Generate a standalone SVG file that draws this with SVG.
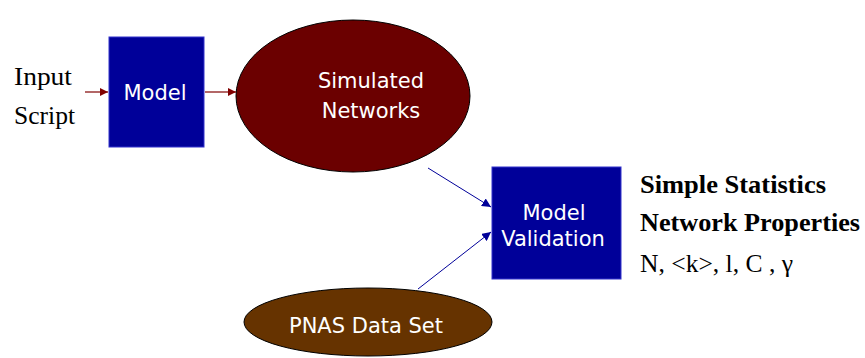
<svg xmlns="http://www.w3.org/2000/svg" width="865" height="358" viewBox="0 0 865 358">
<style>
.box{fill:#000099;stroke:#3333cc;stroke-width:1}
.lbl{font-family:"DejaVu Sans","Liberation Sans",sans-serif;font-size:21px;fill:#ffffff;text-anchor:middle}
.ser{font-family:"Liberation Serif",serif;font-size:26px;fill:#000000}
.bold{font-weight:bold}
.red{stroke:#800000;stroke-width:1.2;fill:none}
.blue{stroke:#000099;stroke-width:1;fill:none}
</style>
<defs>
<marker id="ar" viewBox="0 0 10 10" refX="10" refY="5" markerWidth="8" markerHeight="8" markerUnits="userSpaceOnUse" orient="auto"><path d="M0,0L10,5L0,10z" fill="#800000"/></marker>
<marker id="ab" viewBox="0 0 10 10" refX="10" refY="5" markerWidth="9" markerHeight="9" markerUnits="userSpaceOnUse" orient="auto"><path d="M0,0L10,5L0,10z" fill="#000099"/></marker>
</defs>
<g id="input">
<text class="ser" x="14" y="85" textLength="58" lengthAdjust="spacingAndGlyphs">Input</text>
<text class="ser" x="14" y="124" textLength="61" lengthAdjust="spacingAndGlyphs">Script</text>
</g>
<g id="model">
<rect class="box" x="109" y="37" width="95" height="110"/>
<text class="lbl" x="155" y="100">Model</text>
</g>
<g id="simulated">
<ellipse cx="353" cy="96" rx="117" ry="76" fill="#6b0000" stroke="#000" stroke-width="1"/>
<text class="lbl" x="371" y="88">Simulated</text>
<text class="lbl" x="371" y="118">Networks</text>
</g>
<g id="validation">
<rect class="box" x="492" y="167" width="129" height="112"/>
<text class="lbl" x="554" y="220">Model</text>
<text class="lbl" x="553" y="246">Validation</text>
</g>
<g id="pnas">
<ellipse cx="368" cy="322" rx="124" ry="34" fill="#663300" stroke="#000" stroke-width="1"/>
<text class="lbl" x="366" y="333">PNAS Data Set</text>
</g>
<g id="stats">
<text class="ser bold" x="640" y="193" textLength="186" lengthAdjust="spacingAndGlyphs">Simple Statistics</text>
<text class="ser bold" x="640" y="231" textLength="220" lengthAdjust="spacingAndGlyphs">Network Properties</text>
<text class="ser" x="640" y="272" textLength="153" lengthAdjust="spacingAndGlyphs">N, &lt;k&gt;, l, C , γ</text>
</g>
<g id="connectors">
<line class="red" x1="85" y1="92" x2="108" y2="92" marker-end="url(#ar)"/>
<line class="red" x1="205" y1="92" x2="236" y2="92" marker-end="url(#ar)"/>
<line class="blue" x1="428" y1="168" x2="491" y2="207" marker-end="url(#ab)"/>
<line class="blue" x1="418" y1="289" x2="491" y2="232" marker-end="url(#ab)"/>
</g>
</svg>
